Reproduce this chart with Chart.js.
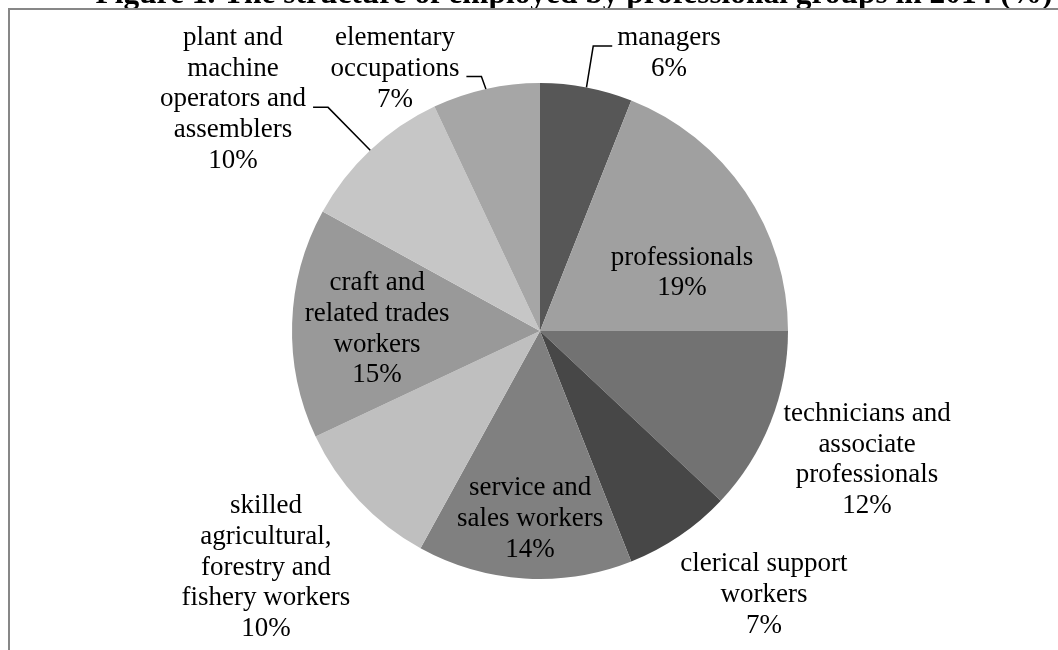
<!DOCTYPE html>
<html>
<head>
<meta charset="utf-8">
<script src="https://cdn.jsdelivr.net/npm/chart.js@4.4.1/dist/chart.umd.min.js"></script>
<style>
  html, body { margin: 0; padding: 0; background: #ffffff; overflow: hidden; }
  #wrap { position: relative; width: 1058px; height: 650px; }
</style>
</head>
<body>
<div id="wrap"><canvas id="c"></canvas></div>
<script>
// ---- data ----
const TITLE = "Figure 1. The structure of employed by professional groups in 2014 (%)";
const categories = [
  "managers",
  "professionals",
  "technicians and associate professionals",
  "clerical support workers",
  "service and sales workers",
  "skilled agricultural, forestry and fishery workers",
  "craft and related trades workers",
  "plant and machine operators and assemblers",
  "elementary occupations"
];
const shares = [6, 19, 12, 7, 14, 10, 15, 10, 7];
const labelLines = [
  ["managers"],
  ["professionals"],
  ["technicians and", "associate", "professionals"],
  ["clerical support", "workers"],
  ["service and", "sales workers"],
  ["skilled", "agricultural,", "forestry and", "fishery workers"],
  ["craft and", "related trades", "workers"],
  ["plant and", "machine", "operators and", "assemblers"],
  ["elementary", "occupations"]
];

// ---- styles / layout (not data) ----
const sliceColors = ["#575757", "#a0a0a0", "#727272", "#474747", "#808080",
                     "#bfbfbf", "#999999", "#c6c6c6", "#a6a6a6"];
// label block centre relative to pie centre, in units of the radius
const labelLayout = [
  { fx: 0.520, fy: -1.119, leader: { line: 0, side: "right" } },
  { fx: 0.573, fy: -0.234 },
  { fx: 1.319, fy: 0.520 },
  { fx: 0.903, fy: 1.065 },
  { fx: -0.040, fy: 0.758 },
  { fx: -1.105, fy: 0.954 },
  { fx: -0.657, fy: -0.008 },
  { fx: -1.238, fy: -0.934, leader: { line: 2, side: "left" } },
  { fx: -0.585, fy: -1.058, leader: { line: 1, side: "left" } }
];
const LABEL_FONT = '27px "Liberation Serif", "Times New Roman", serif';
const LINE_H = 30.8;

const framePlugin = {
  id: "frameTitle",
  beforeDraw(chart) {
    const ctx = chart.ctx;
    ctx.save();
    ctx.fillStyle = "#ffffff";
    ctx.fillRect(0, 0, chart.width, chart.height);
    // title (partially cut off at the top of the picture)
    let size = 28;
    ctx.font = 'bold ' + size + 'px "Liberation Serif", "Times New Roman", serif';
    const w = ctx.measureText(TITLE).width;
    size = size * 957 / w;
    ctx.font = 'bold ' + size.toFixed(2) + 'px "Liberation Serif", "Times New Roman", serif';
    ctx.fillStyle = "#000000";
    ctx.textAlign = "center";
    ctx.textBaseline = "alphabetic";
    ctx.fillText(TITLE, 574, 2.5);
    // frame
    ctx.strokeStyle = "#878787";
    ctx.lineWidth = 2;
    ctx.beginPath();
    ctx.moveTo(9, chart.height + 5);
    ctx.lineTo(9, 9);
    ctx.lineTo(chart.width + 5, 9);
    ctx.stroke();
    ctx.restore();
  }
};

const labelPlugin = {
  id: "pieLabels",
  afterDatasetsDraw(chart) {
    const ctx = chart.ctx;
    const meta = chart.getDatasetMeta(0);
    const data = chart.data.datasets[0].data;
    const total = data.reduce((a, b) => a + b, 0);
    ctx.save();
    ctx.font = LABEL_FONT;
    ctx.fillStyle = "#000000";
    ctx.textAlign = "center";
    ctx.textBaseline = "middle";
    meta.data.forEach((arc, i) => {
      const p = arc.getProps(["x", "y", "startAngle", "endAngle", "outerRadius"], true);
      const R = p.outerRadius;
      const lay = labelLayout[i];
      const ax = p.x + lay.fx * R;
      const ay = p.y + lay.fy * R;
      const lines = labelLines[i].concat([Math.round(data[i] / total * 100) + "%"]);
      const n = lines.length;
      let maxW = 0;
      lines.forEach((t, k) => {
        const ly = ay + (k - (n - 1) / 2) * LINE_H;
        ctx.fillText(t, ax, ly);
        maxW = Math.max(maxW, ctx.measureText(t).width);
      });
      if (lay.leader) {
        const mid = (p.startAngle + p.endAngle) / 2;
        const px = p.x + Math.cos(mid) * R;
        const py = p.y + Math.sin(mid) * R;
        const ly = ay + (lay.leader.line - (n - 1) / 2) * LINE_H + 8;
        let endX, elbowX;
        if (lay.leader.side === "right") {
          endX = ax - maxW / 2 - 5;
          elbowX = endX - 19;
        } else {
          endX = ax + maxW / 2 + 7;
          elbowX = endX + 15;
        }
        ctx.strokeStyle = "#000000";
        ctx.lineWidth = 1.5;
        ctx.beginPath();
        ctx.moveTo(endX, ly);
        ctx.lineTo(elbowX, ly);
        ctx.lineTo(px, py);
        ctx.stroke();
      }
    });
    ctx.restore();
  }
};

new Chart(document.getElementById("c"), {
  type: "pie",
  data: {
    labels: categories,
    datasets: [{
      data: shares,
      backgroundColor: sliceColors,
      borderWidth: 0
    }]
  },
  options: {
    responsive: true,
    maintainAspectRatio: false,
    animation: false,
    layout: { padding: { left: 292, right: 270, top: 83, bottom: 71 } },
    plugins: {
      legend: { display: false },
      tooltip: { enabled: false },
      title: { display: false }
    }
  },
  plugins: [framePlugin, labelPlugin]
});
</script>
</body>
</html>
